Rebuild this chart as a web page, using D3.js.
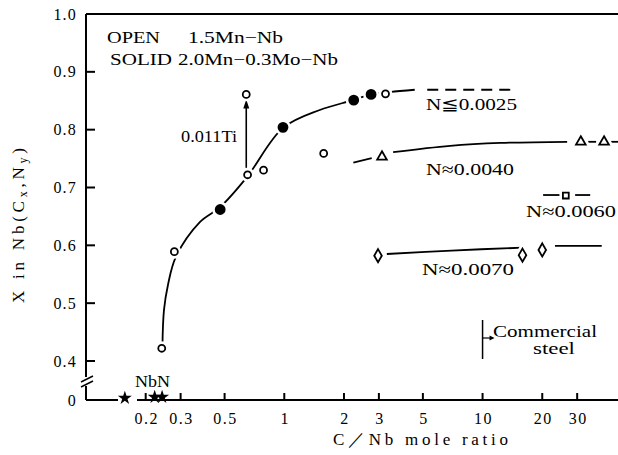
<!DOCTYPE html>
<html>
<head>
<meta charset="utf-8">
<script src="https://cdn.jsdelivr.net/npm/d3@7/dist/d3.min.js"></script>
<style>
  html, body { margin: 0; padding: 0; background: #fff; }
  svg { display: block; }
  text { font-family: "Liberation Serif", "DejaVu Serif", serif; fill: #000; }
</style>
</head>
<body>
<svg id="chart" width="618" height="455"></svg>
<script>
// ---------- data ----------
const xTicks = [0.2, 0.3, 0.5, 1, 2, 3, 5, 10, 20, 30];
const xTickLabels = ["0.2", "0.3", "0.5", "1", "2", "3", "5", "10", "20", "30"];
const yTicks = [0, 0.4, 0.5, 0.6, 0.7, 0.8, 0.9, 1.0];
const yTickLabels = ["0", "0.4", "0.5", "0.6", "0.7", "0.8", "0.9", "1.0"];

// OPEN: 1.5Mn-Nb
const openX = [0.241, 0.279, 0.653, 0.786, 1.58, 3.24];
const openY = [0.422, 0.589, 0.722, 0.730, 0.759, 0.862];
// OPEN with 0.011Ti
const tiX = [0.643];
const tiY = [0.861];
// SOLID: 2.0Mn-0.3Mo-Nb
const solidX = [0.475, 0.985, 2.24, 2.74];
const solidY = [0.662, 0.804, 0.851, 0.861];
// N≈0.0040 triangles
const triX = [3.11, 31.3, 41.0];
const triY = [0.753, 0.779, 0.779];
// N≈0.0060 square
const sqX = [26.3];
const sqY = [0.686];
// N≈0.0070 diamonds
const diaX = [2.97, 15.9, 20.0];
const diaY = [0.582, 0.583, 0.592];
// NbN stars
const starX = [0.157, 0.222, 0.242];
const starY = [0.02, 0.03, 0.03];

// guide curves
const mainCurveX = [0.243, 0.2473, 0.259, 0.284, 0.376, 0.474, 0.648, 0.985, 1.51, 2.22, 2.73, 3.41, 4.55];
const mainCurveY = [0.428, 0.488, 0.5315, 0.58, 0.6405, 0.666, 0.718, 0.803, 0.834, 0.851, 0.861, 0.865, 0.869];
const mainDashX = [5.26, 14.6];
const mainDashY = [0.869, 0.869];
const triLeftX = [2.23, 2.76];
const triLeftY = [0.743, 0.751];
const triCurveX = [3.54, 6.86, 12.3, 26.7];
const triCurveY = [0.761, 0.772, 0.777, 0.779];
const triDash1X = [34.1, 37.4];
const triDash2X = [44.5, 48.2];
const triDashY = [0.779, 0.779];
const sqDash1X = [20.2, 24.7];
const sqDash2X = [29.3, 34.9];
const sqDashY = [0.687, 0.687];
const diaCurveX = [3.29, 6.98, 16.0];
const diaCurveY = [0.585, 0.591, 0.596];
const diaRightX = [23.2, 39.9];
const diaRightY = [0.599, 0.599];

// ---------- scales ----------
const svg = d3.select("#chart");
const x = d3.scaleLog().domain([0.1, 48.2]).range([86, 618]);
const y = d3.scaleLinear().domain([0, 0.4, 1.0]).range([400, 361, 14]);

const zip = (xs, ys) => xs.map((v, i) => [v, ys[i]]);
const line = d3.line().x(d => x(d[0])).y(d => y(d[1]));
const curve = d3.line().x(d => x(d[0])).y(d => y(d[1])).curve(d3.curveCatmullRom.alpha(0.5));

// ---------- axes ----------
const ax = svg.append("g").attr("stroke", "#000").attr("stroke-width", 2).attr("fill", "none");
// top frame
ax.append("line").attr("x1", x(0.1)).attr("x2", 618).attr("y1", y(1.0)).attr("y2", y(1.0));
// y axis (broken)
ax.append("line").attr("x1", x(0.1)).attr("x2", x(0.1)).attr("y1", y(1.0)).attr("y2", 377);
ax.append("line").attr("x1", x(0.1)).attr("x2", x(0.1)).attr("y1", 386).attr("y2", y(0));
ax.append("line").attr("x1", 81).attr("x2", 93).attr("y1", 382).attr("y2", 376).attr("stroke-width", 1.5);
ax.append("line").attr("x1", 81).attr("x2", 93).attr("y1", 387).attr("y2", 381).attr("stroke-width", 1.5);
// x axis (broken)
ax.append("line").attr("x1", x(0.1)).attr("x2", 118).attr("y1", y(0)).attr("y2", y(0));
ax.append("line").attr("x1", 137).attr("x2", 618).attr("y1", y(0)).attr("y2", y(0));

// y ticks (inward)
yTicks.forEach((t, i) => {
  if (t > 0) ax.append("line").attr("x1", x(0.1)).attr("x2", x(0.1) + 9).attr("y1", y(t)).attr("y2", y(t));
  svg.append("text").attr("x", 77).attr("y", y(t) + 5.5).attr("text-anchor", "end")
    .attr("font-size", 16).attr("letter-spacing", 1.2).text(yTickLabels[i]);
});
// x ticks (upward)
xTicks.forEach((t, i) => {
  ax.append("line").attr("x1", x(t)).attr("x2", x(t)).attr("y1", y(0)).attr("y2", y(0) - 7);
  svg.append("text").attr("x", x(t) + 1).attr("y", 424).attr("text-anchor", "middle")
    .attr("font-size", 16).attr("letter-spacing", 1.5).text(xTickLabels[i]);
});

// axis titles
svg.append("text").attr("x", 333).attr("y", 445).attr("font-size", 17)
  .attr("textLength", 175).attr("lengthAdjust", "spacing").text("C／Nb mole ratio");

const yl = svg.append("text").attr("transform", "translate(24,303) rotate(-90)")
  .attr("font-size", 17).attr("textLength", 155).attr("lengthAdjust", "spacing");
yl.append("tspan").text("X  in Nb(C");
yl.append("tspan").attr("font-size", 12).attr("dy", 3).text("x");
yl.append("tspan").attr("dy", -3).text(",N");
yl.append("tspan").attr("font-size", 12).attr("dy", 3).text("y");
yl.append("tspan").attr("dy", -3).text(")");

// ---------- curves ----------
const g = svg.append("g").attr("fill", "none").attr("stroke", "#000").attr("stroke-width", 1.8);
g.append("path").attr("d", curve(zip(mainCurveX, mainCurveY)));
g.append("path").attr("d", line(zip(mainDashX, mainDashY))).attr("stroke-dasharray", "11 7");
g.append("path").attr("d", line(zip(triLeftX, triLeftY)));
g.append("path").attr("d", curve(zip(triCurveX, triCurveY)));
g.append("path").attr("d", line(zip(triDash1X, triDashY)));
g.append("path").attr("d", line(zip(triDash2X, triDashY)));
g.append("path").attr("d", line(zip(sqDash1X, sqDashY)));
g.append("path").attr("d", line(zip(sqDash2X, sqDashY)));
g.append("path").attr("d", curve(zip(diaCurveX, diaCurveY)));
g.append("path").attr("d", line(zip(diaRightX, diaRightY)));

// Ti arrow
g.append("line").attr("x1", x(tiX[0])).attr("x2", x(tiX[0]))
  .attr("y1", y(0.734)).attr("y2", y(0.838)).attr("stroke-width", 1.6);
svg.append("path").attr("fill", "#000")
  .attr("d", `M${x(tiX[0])},${y(0.852)} l-3,9 l6,0 z`);

// Commercial steel marker
g.append("line").attr("x1", x(10)).attr("x2", x(10)).attr("y1", 320).attr("y2", 359).attr("stroke-width", 1.5);
g.append("line").attr("x1", x(10)).attr("x2", x(10) + 9).attr("y1", 338).attr("y2", 338).attr("stroke-width", 1.2);
svg.append("path").attr("fill", "#000").attr("d", `M${x(10) + 12},338 l-5,-2.5 l0,5 z`);

// ---------- markers (with white halo to break the lines) ----------
const mk = svg.append("g");
function pts(xs, ys, shape, size, filled) {
  const sym = d3.symbol().type(shape).size(size);
  const data = zip(xs, ys);
  mk.selectAll(null).data(data).enter().append("path")
    .attr("transform", d => `translate(${x(d[0])},${y(d[1])})`)
    .attr("d", sym).attr("fill", "#fff").attr("stroke", "#fff").attr("stroke-width", 7);
  mk.selectAll(null).data(data).enter().append("path")
    .attr("transform", d => `translate(${x(d[0])},${y(d[1])})`)
    .attr("d", sym).attr("fill", filled ? "#000" : "#fff").attr("stroke", "#000").attr("stroke-width", 1.8);
}
pts(openX, openY, d3.symbolCircle, 38, false);
pts(tiX, tiY, d3.symbolCircle, 38, false);
pts(solidX, solidY, d3.symbolCircle, 64, true);
pts(triX, triY, d3.symbolTriangle, 40, false);
pts(sqX, sqY, d3.symbolSquare, 34, false);
pts(diaX, diaY, d3.symbolDiamond, 50, false);
// stars (no halo)
mk.selectAll(null).data(zip(starX, starY)).enter().append("path")
  .attr("transform", d => `translate(${x(d[0])},${y(d[1])})`)
  .attr("d", d3.symbol().type(d3.symbolStar).size(60)).attr("fill", "#000");

// ---------- annotations ----------
const T = (tx, ty, s, fs, len) => {
  const t = svg.append("text").attr("x", tx).attr("y", ty).attr("font-size", fs).text(s);
  if (len) t.attr("textLength", len).attr("lengthAdjust", "spacingAndGlyphs");
  return t;
};
T(107, 43, "OPEN", 17, 53);
T(188, 43, "1.5Mn−Nb", 17, 95);
T(110, 65, "SOLID", 17, 62);
T(178, 65, "2.0Mn−0.3Mo−Nb", 17, 160);
T(181, 141.5, "0.011Ti", 16, 56);
T(426, 110, "N≦0.0025", 17, 91);
T(426, 175, "N≈0.0040", 17, 88);
T(526, 217, "N≈0.0060", 17, 90);
T(422, 275, "N≈0.0070", 17, 92);
T(135, 387, "NbN", 16, 35);
T(493, 337, "Commercial", 16, 104);
T(533, 353.5, "steel", 16, 42);
</script>
</body>
</html>
